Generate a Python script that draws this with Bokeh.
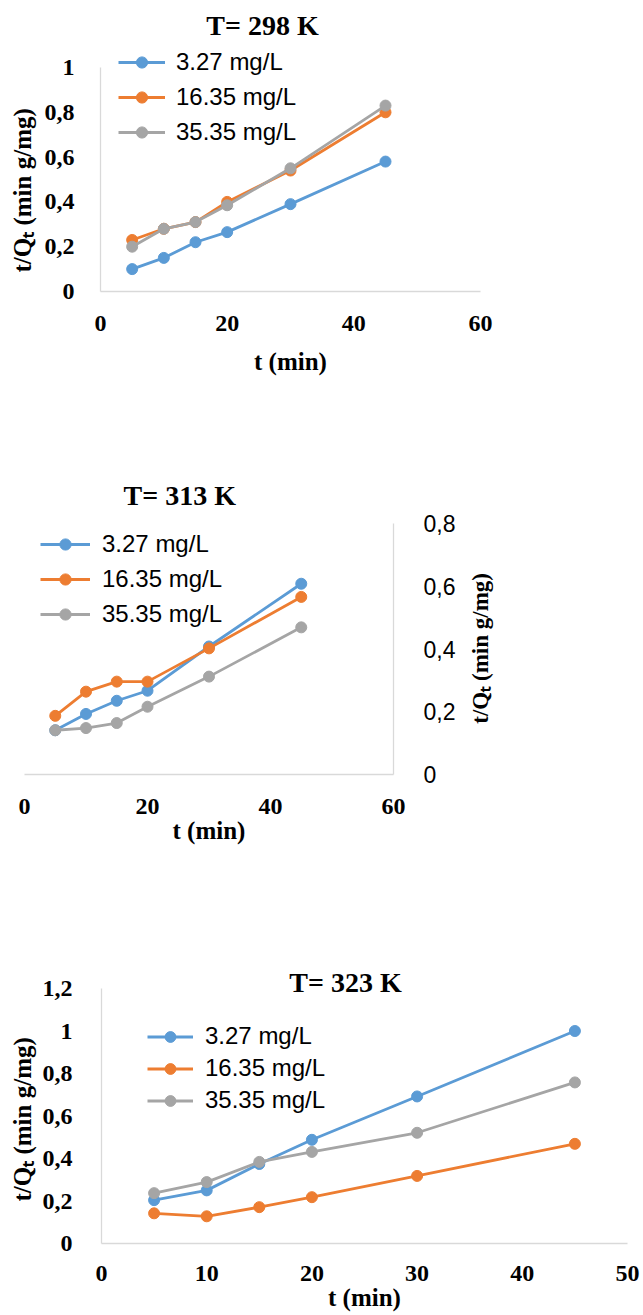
import math
from bokeh.plotting import figure
from bokeh.models import Range1d, FixedTicker, Label, Title
from bokeh.layouts import column, row
from bokeh.embed import file_html
from bokeh.resources import INLINE

# ---------------- data ----------------
t_min = [5, 10, 15, 20, 30, 45]
series_names = ["3.27 mg/L", "16.35 mg/L", "35.35 mg/L"]
series_colors = ["#5B9BD5", "#ED7D31", "#A5A5A5"]

# T = 298 K
q298_a = [0.10, 0.15, 0.22, 0.265, 0.39, 0.58]
q298_b = [0.23, 0.28, 0.31, 0.40, 0.54, 0.80]
q298_c = [0.20, 0.28, 0.31, 0.385, 0.55, 0.83]

# T = 313 K
q313_a = [0.141, 0.193, 0.235, 0.267, 0.408, 0.608]
q313_b = [0.187, 0.264, 0.296, 0.296, 0.402, 0.566]
q313_c = [0.141, 0.148, 0.164, 0.216, 0.312, 0.469]

# T = 323 K
q323_a = [0.204, 0.25, 0.374, 0.488, 0.692, 1.0]
q323_b = [0.142, 0.128, 0.171, 0.218, 0.318, 0.469]
q323_c = [0.237, 0.289, 0.384, 0.431, 0.521, 0.758]

titles = ["T= 298 K", "T= 313 K", "T= 323 K"]
x_label = "t (min)"
y_label = "t/Q\u209c (min  g/mg)"

x_ticks_1 = [0, 20, 40, 60]
y_ticks_1 = [0, 0.2, 0.4, 0.6, 0.8, 1.0]
y_labels_1 = ["0", "0,2", "0,4", "0,6", "0,8", "1"]

x_ticks_2 = [0, 20, 40, 60]
y_ticks_2 = [0, 0.2, 0.4, 0.6, 0.8]
y_labels_2 = ["0", "0,2", "0,4", "0,6", "0,8"]

x_ticks_3 = [0, 10, 20, 30, 40, 50]
y_ticks_3 = [0, 0.2, 0.4, 0.6, 0.8, 1.0, 1.2]
y_labels_3 = ["0", "0,2", "0,4", "0,6", "0,8", "1", "1,2"]

SERIF = "Liberation Serif"
SANS = "Liberation Sans"
AXIS_COLOR = "#D9D9D9"


def y_range_for(y_max, frame_top_px, frame_bottom_px, axis_top_px):
    # choose the range end so that y_max sits at axis_top_px inside the frame
    end = y_max * (frame_bottom_px - frame_top_px) / (frame_bottom_px - axis_top_px)
    return Range1d(0, end)


def no_align(p):
    if "frame_align" in p.properties():
        p.frame_align = False


def style_axes(p, xt, yt, ylabs, ymax, ytick_font=SERIF, ytick_style="bold",
               ytick_size="24px"):
    for ax in p.xaxis + p.yaxis:
        ax.axis_line_color = AXIS_COLOR
        ax.axis_line_width = 1.3
        ax.major_tick_line_color = None
        ax.minor_tick_line_color = None
        ax.major_label_text_color = "#000000"
        ax.axis_label_text_color = "#000000"
        ax.axis_label_text_font = SERIF
        ax.axis_label_text_font_style = "bold"
    p.xaxis.ticker = FixedTicker(ticks=xt)
    p.xaxis.major_label_text_font = SERIF
    p.xaxis.major_label_text_font_style = "bold"
    p.xaxis.major_label_text_font_size = "24px"
    p.xaxis.axis_label = x_label
    p.xaxis.axis_label_text_font_size = "25px"
    p.yaxis.ticker = FixedTicker(ticks=yt)
    p.yaxis.bounds = (0, ymax)
    p.yaxis.major_label_overrides = {k: v for k, v in zip(yt, ylabs)}
    p.yaxis.major_label_text_font = ytick_font
    p.yaxis.major_label_text_font_style = ytick_style
    p.yaxis.major_label_text_font_size = ytick_size
    p.yaxis.major_label_orientation = "horizontal"
    p.grid.visible = False
    p.outline_line_color = None
    p.background_fill_color = "white"
    p.border_fill_color = "white"
    no_align(p)


def add_side_ylabel(p, offset, standoff):
    # y-axis title drawn in the left side panel, placed along the axis line
    p.add_layout(Title(text=y_label, align="left", offset=offset,
                       standoff=standoff, text_font=SERIF,
                       text_font_style="bold", text_font_size="25px",
                       text_color="#000000"), "left")


def add_series(p, ys):
    for y, name, c in zip(ys, series_names, series_colors):
        p.line(t_min, y, line_width=2.8, color=c, legend_label=name)
        p.scatter(t_min, y, size=11, color=c, legend_label=name)


def style_legend(p, loc, glyph_w, standoff, row_h, spacing):
    lg = p.legend[0]
    lg.location = loc
    lg.label_text_font = SANS
    lg.label_text_font_size = "24px"
    lg.label_text_color = "#000000"
    lg.glyph_width = glyph_w
    lg.glyph_height = row_h
    lg.label_height = row_h
    lg.label_standoff = standoff
    lg.spacing = spacing
    lg.padding = 0
    lg.margin = 0
    lg.background_fill_alpha = 0
    lg.border_line_alpha = 0


def add_title(p, text, cx, cy):
    p.add_layout(Label(x=cx, y=cy, x_units="canvas", y_units="canvas",
                       text=text, text_font=SERIF, text_font_style="bold",
                       text_font_size="28px", text_align="center",
                       text_baseline="middle", text_color="#000000"))


# ---------------- panel 1 (298 K) ----------------
p1 = figure(width=643, height=440, output_backend="svg", toolbar_location=None,
            x_range=Range1d(0, 60), y_range=y_range_for(1.0, 0, 291, 67),
            min_border_left=100, min_border_right=163,
            min_border_top=0, min_border_bottom=149)
add_series(p1, [q298_a, q298_b, q298_c])
style_axes(p1, x_ticks_1, y_ticks_1, y_labels_1, 1.0)
p1.xaxis.major_label_standoff = 18
p1.xaxis.axis_label_standoff = 14
p1.yaxis.major_label_standoff = 20
add_side_ylabel(p1, 19, 12)
style_legend(p1, (18, 145), 47, 11, 28, 7)
add_title(p1, titles[0], 262, 25)

# ---------------- panel 2 (313 K) ----------------
p2 = figure(width=460, height=460, output_backend="svg", toolbar_location=None,
            x_range=Range1d(0, 60), y_range=y_range_for(0.8, 76, 334, 83),
            y_axis_location="right",
            min_border_left=24, min_border_right=67,
            min_border_top=76, min_border_bottom=126)
add_series(p2, [q313_a, q313_b, q313_c])
style_axes(p2, x_ticks_2, y_ticks_2, y_labels_2, 0.8, ytick_font=SANS,
           ytick_style="normal", ytick_size="23px")
p2.xaxis.major_label_standoff = 18
p2.xaxis.axis_label_standoff = 0
p2.yaxis.major_label_standoff = 24
p2.title = Title(text=titles[1], align="left", offset=99, standoff=12,
                 text_font=SERIF, text_font_style="bold",
                 text_font_size="28px", text_color="#000000")
style_legend(p2, (16, 146), 50, 12, 28, 7)

# right-hand y-axis title of panel 2 (reads bottom to top)
p2_lab = figure(width=183, height=460, output_backend="svg", toolbar_location=None,
                x_range=Range1d(0, 1), y_range=Range1d(0, 1),
                x_axis_location=None, y_axis_location=None,
                min_border_left=0, min_border_right=0,
                min_border_top=0, min_border_bottom=0)
p2_lab.grid.visible = False
p2_lab.outline_line_color = None
no_align(p2_lab)
p2_lab.add_layout(Label(x=20, y=205, x_units="canvas", y_units="canvas",
                        text=y_label, angle=math.pi / 2, text_font=SERIF,
                        text_font_style="bold", text_font_size="23px",
                        text_align="center", text_baseline="middle",
                        text_color="#000000"))

# ---------------- panel 3 (323 K) ----------------
p3 = figure(width=643, height=415, output_backend="svg", toolbar_location=None,
            x_range=Range1d(0, 50), y_range=y_range_for(1.2, 0, 343, 88),
            min_border_left=101, min_border_right=16,
            min_border_top=0, min_border_bottom=72)
add_series(p3, [q323_a, q323_b, q323_c])
style_axes(p3, x_ticks_3, y_ticks_3, y_labels_3, 1.2)
p3.xaxis.major_label_standoff = 16
p3.xaxis.axis_label_standoff = 0
p3.yaxis.major_label_standoff = 23
add_side_ylabel(p3, 42, 8)
style_legend(p3, (46, 129), 46, 12, 27, 4)
add_title(p3, titles[2], 345, 82)

layout = column(p1, row(p2, p2_lab, spacing=0), p3, spacing=0)
open("out.html", "w").write(file_html(layout, INLINE))
